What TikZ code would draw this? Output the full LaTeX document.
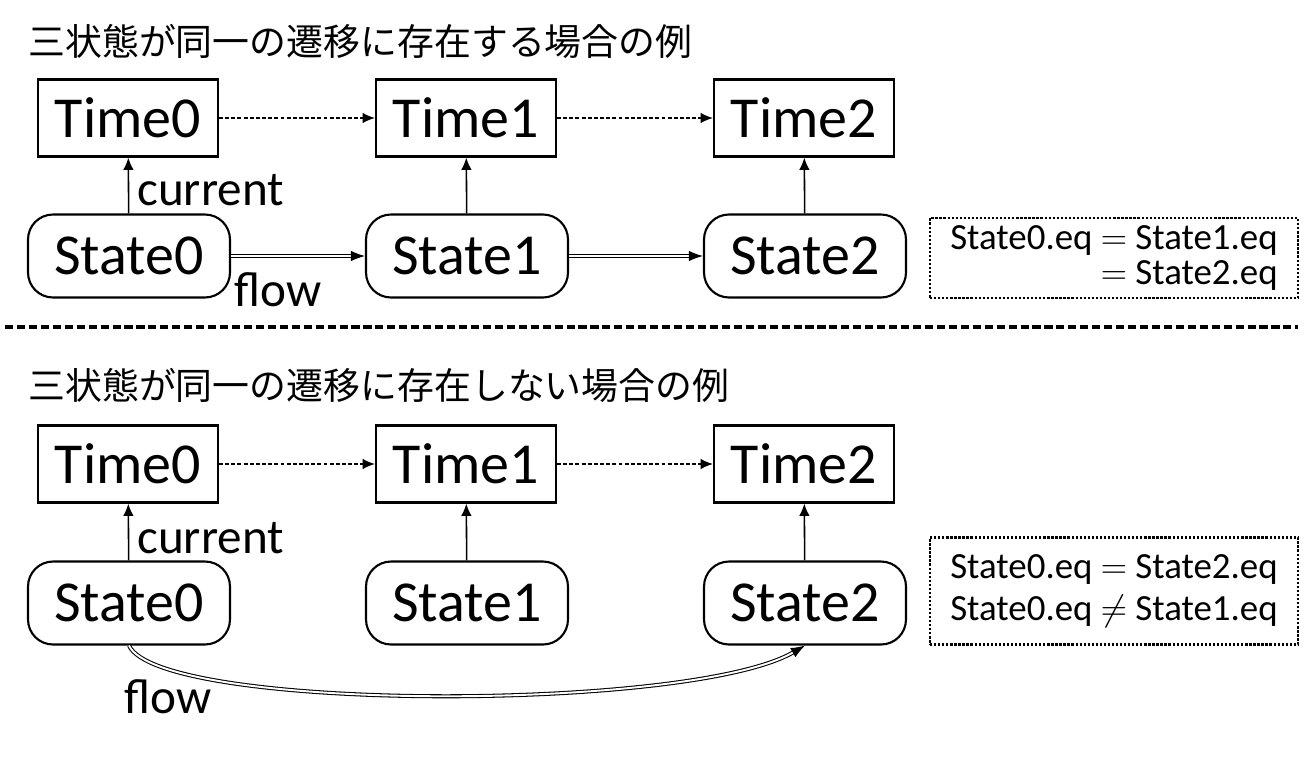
\documentclass[tikz,border=0pt]{standalone}
\usepackage{fontspec}
\setmainfont{Carlito}
\newfontfamily\jpfont{Noto Sans CJK JP}
\usetikzlibrary{arrows.meta}

\tikzset{
  timebox/.style={draw=black, line width=1.2pt, minimum width=3.6cm, minimum height=1.54cm, font=\fontsize{33}{38}\selectfont},
  statebox/.style={draw=black, line width=1.2pt, rounded corners=0.5cm, minimum width=4.04cm, minimum height=1.66cm, font=\fontsize{33}{38}\selectfont},
  uparrow/.style={line width=0.9pt, -{Latex[length=7pt,width=6pt]}},
  nextarrow/.style={line width=0.9pt, dash pattern=on 2.2pt off 1.3pt, -{Latex[length=7pt,width=6pt]}},
  flowarrow/.style={double, double distance=1.1pt, line width=0.6pt, -{Latex[length=8pt,width=6pt]}},
  eqbox/.style={draw=black, line width=1.4pt, dash pattern=on 1.3pt off 1pt, minimum width=7.36cm, font=\fontsize{21}{20}\selectfont},
  lbl/.style={anchor=west, inner sep=0pt, font=\fontsize{28}{32}\selectfont},
  title/.style={anchor=west, inner sep=0pt, font=\jpfont\fontsize{21}{25}\selectfont}
}

\begin{document}
\begin{tikzpicture}[x=0.02cm, y=-0.02cm]
\useasboundingbox (0,0) rectangle (1304,757);

% upper example
\node[title] (titlea) at (28,41) {三状態が同一の遷移に存在する場合の例};
\foreach \i/\x in {0/128,1/466,2/804}{
\node[timebox] (ta\i) at (\x,118) {Time\i};
\node[statebox] (sa\i) at (\x+1,256) {State\i};
\draw[uparrow] (sa\i) -- (ta\i);
}
\draw[nextarrow] (ta0) -- (ta1);
\draw[nextarrow] (ta1) -- (ta2);
\draw[flowarrow] (sa0.east) -- (sa1.west);
\draw[flowarrow] (sa1.east) -- (sa2.west);
\node[lbl] (cura) at (137,190) {current};
\node[lbl] (flowa) at (234,290) {flow};
\node[eqbox, minimum height=1.6cm, align=right] (eqa) at (1114,258) {State0.eq $=$ State1.eq\\$=$ State2.eq};

% separator
\coordinate (sepl) at (5,327);
\coordinate (sepr) at (1298,327);
\draw[line width=2.3pt, dash pattern=on 4.6pt off 2.2pt] (sepl) -- (sepr);

% lower example
\node[title] (titleb) at (28,385) {三状態が同一の遷移に存在しない場合の例};
\foreach \i/\x in {0/128,1/466,2/804}{
\node[timebox] (tb\i) at (\x,464) {Time\i};
\node[statebox] (sb\i) at (\x+1,603) {State\i};
\draw[uparrow] (sb\i) -- (tb\i);
}
\draw[nextarrow] (tb0) -- (tb1);
\draw[nextarrow] (tb1) -- (tb2);
\draw[flowarrow] (sb0.south) .. controls (160,712) and (690,712) .. (sb2.south);
\node[lbl] (curb) at (137,538) {current};
\node[lbl] (flowb) at (124,697) {flow};
\node[eqbox, minimum height=2.14cm, align=left, font=\fontsize{21}{24}\selectfont] (eqb) at (1114,591) {State0.eq $=$ State2.eq\\State0.eq $\neq$ State1.eq};
\end{tikzpicture}
\end{document}
